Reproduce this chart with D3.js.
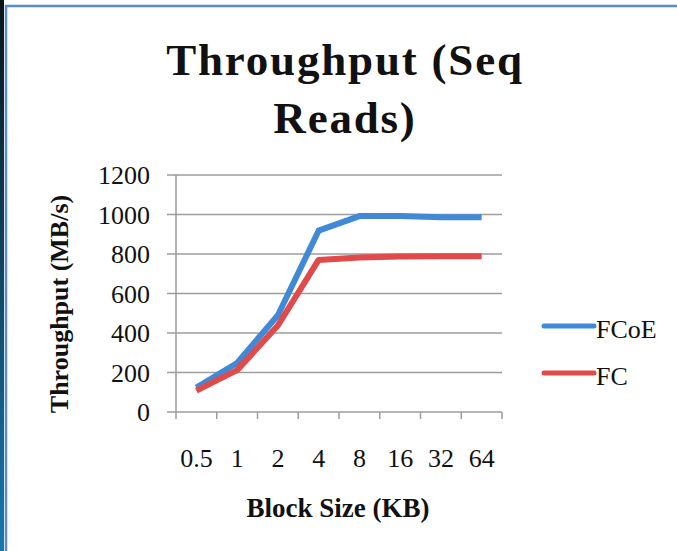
<!DOCTYPE html>
<html>
<head>
<meta charset="utf-8">
<script src="https://cdn.jsdelivr.net/npm/d3@7"></script>
<style>
  html, body { margin: 0; padding: 0; background: #fff; }
  svg { display: block; }
  text { font-family: "Liberation Serif", "DejaVu Serif", serif; fill: #111; }
</style>
</head>
<body>
<svg id="chart" width="677" height="551"></svg>
<script>
// Block sizes (KB) on the category axis
const blockSizes = ["0.5", "1", "2", "4", "8", "16", "32", "64"];
// Sequential read throughput, MB/s
const fcoeValues = [124, 248, 490, 918, 992, 993, 986, 986];
const fcValues   = [108, 212, 438, 770, 782, 787, 788, 788];
const yTicks = [0, 200, 400, 600, 800, 1000, 1200];
const seriesNames = ["FCoE", "FC"];
const seriesColors = ["#4189d6", "#e04a4a"];

const svg = d3.select("#chart");

// Frame along the left and top edges
const grad = svg.append("defs").append("linearGradient")
  .attr("id", "edge").attr("x1", 0).attr("y1", 0).attr("x2", 0).attr("y2", 1);
grad.append("stop").attr("offset", "0%").attr("stop-color", "#0a151a");
grad.append("stop").attr("offset", "100%").attr("stop-color", "#1678b0");
svg.append("rect").attr("x", 0).attr("y", 0).attr("width", 4).attr("height", 551).attr("fill", "url(#edge)");
svg.append("line").attr("x1", 6).attr("x2", 6).attr("y1", 5).attr("y2", 551)
  .attr("stroke", "#5b8dca").attr("stroke-width", 2.5);
svg.append("line").attr("x1", 5).attr("x2", 677).attr("y1", 6).attr("y2", 6)
  .attr("stroke", "#5b8dca").attr("stroke-width", 2.5);

const x = d3.scaleBand().domain(blockSizes).range([176, 502]);
const y = d3.scaleLinear().domain([0, 1200]).range([412, 175]);

// Title
const title = svg.append("text")
  .attr("text-anchor", "middle")
  .style("font-size", "45px").style("font-weight", "bold")
  .style("letter-spacing", "1.8px");
title.append("tspan").attr("x", 345).attr("y", 75).text("Throughput (Seq");
title.append("tspan").attr("x", 345).attr("y", 133).text("Reads)");

// Horizontal gridlines with outside ticks
svg.append("g").selectAll("line").data(yTicks).join("line")
  .attr("x1", 167).attr("x2", 502)
  .attr("y1", d => y(d)).attr("y2", d => y(d))
  .attr("stroke", "#9d9d9d").attr("stroke-width", 1.5);

// Vertical axis line
svg.append("line").attr("x1", 176).attr("x2", 176).attr("y1", y(1200)).attr("y2", y(0))
  .attr("stroke", "#9d9d9d").attr("stroke-width", 1.5);

// Category boundary ticks
const bounds = blockSizes.map(d => x(d)).concat([x.range()[1]]);
svg.append("g").selectAll("line").data(bounds).join("line")
  .attr("x1", d => d).attr("x2", d => d)
  .attr("y1", y(0)).attr("y2", y(0) + 7)
  .attr("stroke", "#9d9d9d").attr("stroke-width", 1.5);

// Y tick labels
svg.append("g").selectAll("text").data(yTicks).join("text")
  .attr("x", 150).attr("y", d => y(d) + 9)
  .attr("text-anchor", "end")
  .style("font-size", "26px")
  .text(d => d);

// X tick labels
svg.append("g").selectAll("text").data(blockSizes).join("text")
  .attr("x", d => x(d) + x.bandwidth() / 2).attr("y", 467)
  .attr("text-anchor", "middle")
  .style("font-size", "26px")
  .text(d => d);

// Axis titles
svg.append("text")
  .attr("transform", "translate(68,304) rotate(-90)")
  .attr("text-anchor", "middle")
  .style("font-size", "26px").style("font-weight", "bold")
  .text("Throughput (MB/s)");
svg.append("text")
  .attr("x", 338).attr("y", 517)
  .attr("text-anchor", "middle")
  .style("font-size", "27px").style("font-weight", "bold")
  .text("Block Size (KB)");

// Series lines
const line = d3.line()
  .x((d, i) => x(blockSizes[i]) + x.bandwidth() / 2)
  .y(d => y(d));
[fcoeValues, fcValues].forEach((vals, k) => {
  svg.append("path").datum(vals)
    .attr("d", line)
    .attr("fill", "none")
    .attr("stroke", seriesColors[k])
    .attr("stroke-width", 6)
    .attr("stroke-linejoin", "round");
});

// Legend
const legend = svg.append("g").selectAll("g").data(seriesNames).join("g")
  .attr("transform", (d, i) => `translate(0,${326 + i * 47})`);
legend.append("line")
  .attr("x1", 544).attr("x2", 594).attr("y1", 0).attr("y2", 0)
  .attr("stroke", (d, i) => seriesColors[i]).attr("stroke-width", 5)
  .attr("stroke-linecap", "round");
legend.append("text")
  .attr("x", 596).attr("y", 12)
  .style("font-size", "26px")
  .text(d => d);
</script>
</body>
</html>
